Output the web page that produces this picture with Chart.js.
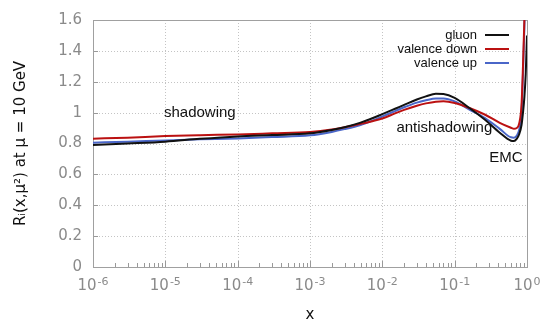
<!DOCTYPE html>
<html>
<head>
<meta charset="utf-8">
<script src="https://cdn.jsdelivr.net/npm/chart.js@4/dist/chart.umd.min.js"></script>
<style>
html,body{margin:0;padding:0;background:#fff;}
canvas{display:block;}
</style>
</head>
<body>
<canvas id="c" width="550" height="328" style="width:550px;height:328px"></canvas>
<script>
// ---- data ----
const xValues = [1e-6, 3e-6, 1e-5, 3e-5, 1e-4, 3e-4, 1e-3, 2e-3, 3e-3, 5e-3, 7e-3, 1e-2, 1.5e-2, 2e-2, 3e-2, 4e-2, 5.5e-2, 7e-2, 0.1, 0.16, 0.26, 0.42, 0.6, 0.66, 0.72, 0.78, 0.84, 0.88, 0.92, 0.96, 1.0];
const gluon   = [0.790, 0.800, 0.812, 0.830, 0.846, 0.855, 0.866, 0.888, 0.905, 0.935, 0.960, 0.990, 1.025, 1.050, 1.085, 1.105, 1.122, 1.120, 1.095, 1.030, 0.955, 0.870, 0.818, 0.816, 0.830, 0.860, 0.920, 1.000, 1.100, 1.250, 1.500];
const valDown = [0.831, 0.838, 0.848, 0.854, 0.859, 0.866, 0.874, 0.890, 0.905, 0.927, 0.943, 0.962, 0.995, 1.018, 1.045, 1.060, 1.071, 1.073, 1.062, 1.030, 0.988, 0.934, 0.902, 0.895, 0.900, 0.930, 1.050, 1.300, 1.600, 2.000, 2.500];
const valUp   = [0.805, 0.812, 0.820, 0.827, 0.833, 0.842, 0.853, 0.875, 0.893, 0.920, 0.945, 0.975, 1.010, 1.035, 1.065, 1.080, 1.092, 1.092, 1.073, 1.020, 0.966, 0.895, 0.840, 0.838, 0.850, 0.890, 1.000, 1.250, 1.550, 2.000, 2.500];
const seriesNames   = ['gluon', 'valence down', 'valence up'];
const xTickValues   = [1e-6, 1e-5, 1e-4, 1e-3, 1e-2, 1e-1, 1];
const xTickBase     = '10';
const xTickExponent = ['-6', '-5', '-4', '-3', '-2', '-1', '0'];
const yTickValues   = [0, 0.2, 0.4, 0.6, 0.8, 1.0, 1.2, 1.4, 1.6];
const annotations   = [
  {text: 'shadowing', x: 3.0e-5, y: 1.0},
  {text: 'antishadowing', x: 7.2e-2, y: 0.90},
  {text: 'EMC', x: 0.51, y: 0.71}
];

const colors = ['#111111', '#bb1111', '#4a66c8'];

const datasets = [gluon, valDown, valUp].map((arr, i) => ({
  label: seriesNames[i],
  data: xValues.map((x, j) => ({x: x, y: arr[j]})),
  borderColor: colors[i],
  backgroundColor: colors[i],
  borderWidth: 2,
  pointRadius: 0,
  fill: false,
  cubicInterpolationMode: 'monotone'
}));

const framePlugin = {
  id: 'frame',
  beforeDatasetsDraw(chart) {
    const {ctx, chartArea: a, scales} = chart;
    const xs = scales.x, ys = scales.y;
    ctx.save();
    // dotted grid
    ctx.strokeStyle = '#c4c4c4';
    ctx.lineWidth = 1;
    ctx.setLineDash([1, 2]);
    yTickValues.forEach(v => {
      if (v <= 0 || v >= 1.6) return;
      const y = Math.round(ys.getPixelForValue(v)) + 0.5;
      ctx.beginPath(); ctx.moveTo(a.left, y); ctx.lineTo(a.right, y); ctx.stroke();
    });
    xTickValues.forEach(v => {
      if (v <= 1e-6 || v >= 1) return;
      const x = Math.round(xs.getPixelForValue(v)) + 0.5;
      ctx.beginPath(); ctx.moveTo(x, a.top); ctx.lineTo(x, a.bottom); ctx.stroke();
    });
    ctx.setLineDash([]);
    // tick marks (inside)
    ctx.strokeStyle = '#999999';
    yTickValues.forEach(v => {
      const y = Math.round(ys.getPixelForValue(v)) + 0.5;
      ctx.beginPath(); ctx.moveTo(a.left, y); ctx.lineTo(a.left + 5, y); ctx.stroke();
    });
    for (let d = -6; d < 0; d++) {
      for (let k = 1; k <= 9; k++) {
        const v = k * Math.pow(10, d);
        const x = Math.round(xs.getPixelForValue(v)) + 0.5;
        const len = k === 1 ? 6 : 4;
        ctx.beginPath(); ctx.moveTo(x, a.bottom); ctx.lineTo(x, a.bottom - len); ctx.stroke();
      }
    }
    // box
    ctx.strokeStyle = '#a0a0a0';
    ctx.strokeRect(Math.round(a.left) + 0.5, Math.round(a.top) + 0.5,
                   Math.round(a.right - a.left), Math.round(a.bottom - a.top));
    // x tick labels: 10 with superscript exponent
    ctx.fillStyle = '#8a8a8a';
    ctx.textBaseline = 'alphabetic';
    ctx.textAlign = 'left';
    const baseFont = '15px "DejaVu Sans", sans-serif';
    const expFont = '11px "DejaVu Sans", sans-serif';
    xTickValues.forEach((v, i) => {
      const x = xs.getPixelForValue(v);
      ctx.font = baseFont;
      const wb = ctx.measureText(xTickBase).width;
      ctx.font = expFont;
      const we = ctx.measureText(xTickExponent[i]).width;
      const x0 = x - (wb + we + 1) / 2;
      ctx.font = baseFont;
      ctx.fillText(xTickBase, x0, a.bottom + 23);
      ctx.font = expFont;
      ctx.fillText(xTickExponent[i], x0 + wb + 1, a.bottom + 18);
    });
    ctx.restore();
  },
  afterDatasetsDraw(chart) {
    const {ctx, chartArea: a, scales} = chart;
    const xs = scales.x, ys = scales.y;
    ctx.save();
    // annotations
    ctx.fillStyle = '#111111';
    ctx.font = '15px "Liberation Sans", Arial, sans-serif';
    ctx.textAlign = 'center';
    ctx.textBaseline = 'middle';
    annotations.forEach(t => {
      ctx.fillText(t.text, xs.getPixelForValue(t.x), ys.getPixelForValue(t.y));
    });
    // legend (top right, text right-aligned, line sample on the right)
    ctx.font = '13px "Liberation Sans", Arial, sans-serif';
    ctx.textAlign = 'right';
    chart.data.datasets.forEach((ds, i) => {
      const y = a.top + 15 + i * 14;
      ctx.fillStyle = '#111111';
      ctx.fillText(ds.label, a.right - 50, y);
      ctx.strokeStyle = ds.borderColor;
      ctx.lineWidth = 2;
      ctx.beginPath(); ctx.moveTo(a.right - 42, y); ctx.lineTo(a.right - 18, y); ctx.stroke();
    });
    ctx.restore();
  }
};

new Chart(document.getElementById('c'), {
  type: 'line',
  data: {datasets: datasets},
  plugins: [framePlugin],
  options: {
    responsive: false,
    devicePixelRatio: 1,
    animation: false,
    layout: {padding: {top: 18, right: 23, left: 0, bottom: 0}},
    plugins: {legend: {display: false}, tooltip: {enabled: false}},
    scales: {
      x: {
        type: 'logarithmic',
        min: 1e-6,
        max: 1,
        afterBuildTicks: (s) => { s.ticks = xTickValues.map(v => ({value: v})); },
        afterFit: (s) => { s.height = 61; },
        grid: {display: false, drawTicks: false},
        border: {display: false},
        ticks: {display: false},
        title: {
          display: true,
          text: 'x',
          color: '#111111',
          font: {family: '"DejaVu Sans", sans-serif', size: 15},
          padding: {top: 4, bottom: 4}
        }
      },
      y: {
        type: 'linear',
        min: 0,
        max: 1.6,
        afterBuildTicks: (s) => { s.ticks = yTickValues.map(v => ({value: v})); },
        afterFit: (s) => { s.width = 93; },
        grid: {display: false, drawTicks: false},
        border: {display: false},
        ticks: {
          padding: 11,
          color: '#8a8a8a',
          font: {family: '"DejaVu Sans", sans-serif', size: 15},
          callback: (v) => String(+Number(v).toFixed(1))
        },
        title: {
          display: true,
          text: 'R\u1D62(x,\u03BC\u00B2) at \u03BC = 10 GeV',
          color: '#111111',
          font: {family: '"DejaVu Sans", sans-serif', size: 15},
          padding: {top: 12, bottom: 4}
        }
      }
    }
  }
});
</script>
</body>
</html>
